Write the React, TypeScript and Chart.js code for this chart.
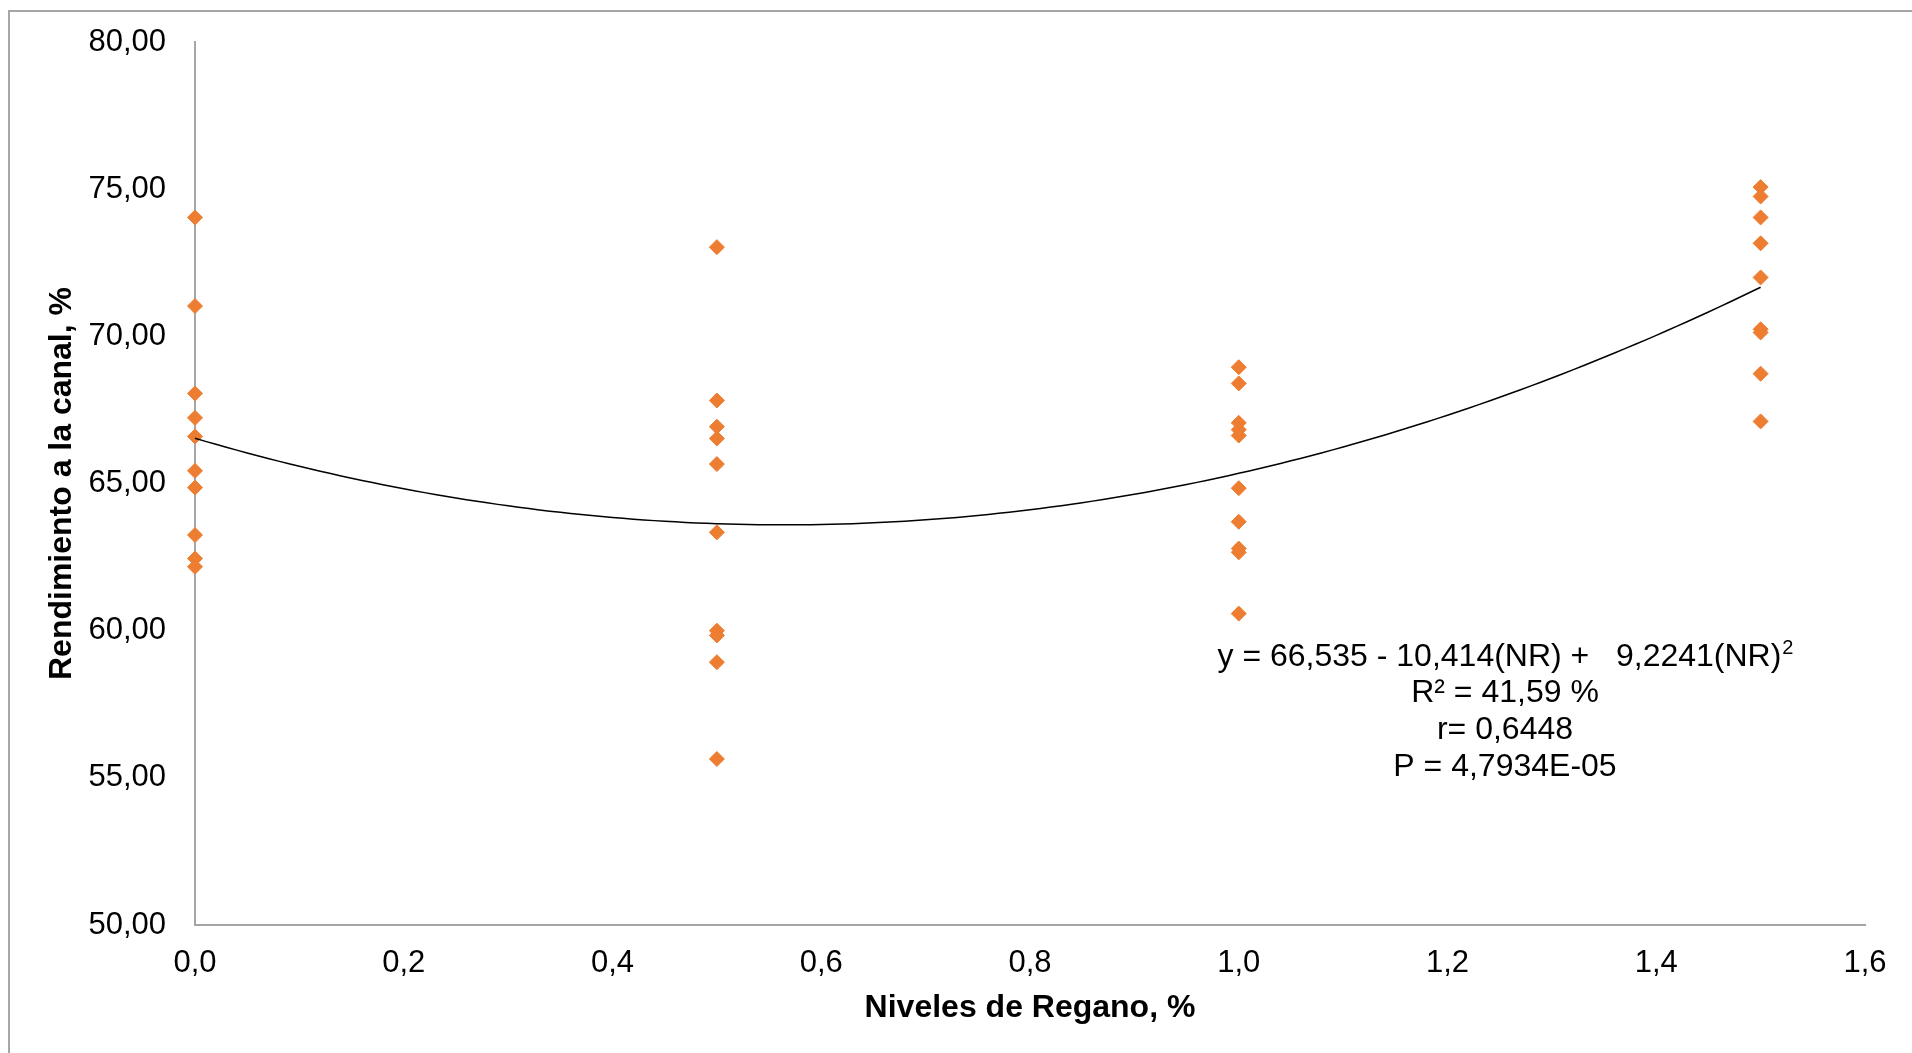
import React, { useEffect, useRef } from "react";
import { Chart, registerables } from "chart.js";

Chart.register(...registerables);

// Levels of oregano (x) and carcass yield observations per level (y)
const levels = [0, 0.5, 1.0, 1.5];
const yieldAt00 = [74.04, 71.03, 68.06, 67.23, 66.6, 65.43, 64.86, 63.25, 62.45, 62.17];
const yieldAt05 = [73.03, 67.82, 66.93, 66.53, 65.66, 63.34, 60.0, 59.84, 58.93, 55.64];
const yieldAt10 = [68.95, 68.4, 67.06, 66.83, 66.63, 64.84, 63.7, 62.79, 62.66, 60.58];
const yieldAt15 = [75.07, 74.75, 74.04, 73.16, 72.0, 70.24, 70.13, 68.73, 67.11];

// Polynomial trendline coefficients (c0 + c1*x + c2*x^2), as printed on the chart
const trendCoef = [66.535, -10.414, 9.2241];
const trendRange = [0, 1.5];

const equationMain = "y = 66,535 - 10,414(NR) +   9,2241(NR)";
const equationSup = "2";
const statLines = ["R² = 41,59 %", "r= 0,6448", "P = 4,7934E-05"];

const xTitle = "Niveles de Regano, %";
const yTitle = "Rendimiento a la canal, %";

const FONT = "'Liberation Sans', Arial, sans-serif";

export default function App() {
  const ref = useRef<HTMLCanvasElement | null>(null);

  useEffect(() => {
    if (!ref.current) return;
    const groups = [yieldAt00, yieldAt05, yieldAt10, yieldAt15];
    const points: { x: number; y: number }[] = [];
    groups.forEach((g, i) => g.forEach((v) => points.push({ x: levels[i], y: v })));

    const trend: { x: number; y: number }[] = [];
    for (let k = 0; k <= 150; k++) {
      const x = trendRange[0] + ((trendRange[1] - trendRange[0]) * k) / 150;
      trend.push({ x, y: trendCoef[0] + trendCoef[1] * x + trendCoef[2] * x * x });
    }

    const equationPlugin = {
      id: "equation",
      afterDraw(chart: any) {
        const ctx = chart.ctx;
        ctx.save();
        ctx.fillStyle = "#000";
        ctx.textBaseline = "middle";
        const cx = 1495;
        const y0 = 645;
        const step = 36.6;
        ctx.font = `32px ${FONT}`;
        const wMain = ctx.measureText(equationMain).width;
        ctx.font = `20px ${FONT}`;
        const wSup = ctx.measureText(equationSup).width;
        const start = cx - (wMain + wSup) / 2;
        ctx.font = `32px ${FONT}`;
        ctx.textAlign = "left";
        ctx.fillText(equationMain, start, y0);
        ctx.font = `20px ${FONT}`;
        ctx.fillText(equationSup, start + wMain + 1, y0 - 9);
        ctx.font = `32px ${FONT}`;
        ctx.textAlign = "center";
        statLines.forEach((t, i) => ctx.fillText(t, cx, y0 + step * (i + 1)));
        ctx.restore();
      },
    };

    const chart = new Chart(ref.current, {
      type: "scatter",
      data: {
        datasets: [
          {
            data: points,
            pointStyle: "rectRot",
            pointRadius: 7.5,
            pointBorderWidth: 1,
            backgroundColor: "#ED7D31",
            borderColor: "#ED7D31",
            clip: false,
            order: 2,
          },
          {
            data: trend,
            showLine: true,
            pointRadius: 0,
            borderColor: "#000",
            borderWidth: 1.5,
            fill: false,
            clip: false,
            order: 1,
          } as any,
        ],
      },
      options: {
        animation: false,
        responsive: false,
        devicePixelRatio: 1,
        layout: { padding: { left: 0, top: 30, right: 47, bottom: 0 } },
        plugins: { legend: { display: false }, tooltip: { enabled: false } },
        scales: {
          x: {
            type: "linear",
            min: 0,
            max: 1.6,
            grid: { display: false, drawTicks: false },
            border: { display: true, color: "#A6A6A6", width: 2 },
            ticks: {
              stepSize: 0.2,
              padding: 20,
              color: "#000",
              font: { family: FONT, size: 31 },
              callback: (v: any) => Number(v).toFixed(1).replace(".", ","),
            },
            title: {
              display: true,
              text: xTitle,
              color: "#000",
              font: { family: FONT, size: 32, weight: "bold" },
              padding: { top: 0, bottom: 26 },
            },
            afterFit: (s: any) => {
              s.height = 128;
              s.paddingLeft = 0;
              s.paddingRight = 0;
              s.paddingTop = 0;
              s.paddingBottom = 0;
            },
          },
          y: {
            type: "linear",
            min: 50,
            max: 80,
            grid: { display: false, drawTicks: false },
            border: { display: true, color: "#A6A6A6", width: 2 },
            ticks: {
              stepSize: 5,
              padding: 29,
              color: "#000",
              font: { family: FONT, size: 31 },
              callback: (v: any) => Number(v).toFixed(2).replace(".", ","),
            },
            title: {
              display: true,
              text: yTitle,
              color: "#000",
              font: { family: FONT, size: 32, weight: "bold" },
              padding: { top: 33, bottom: 0 },
            },
            afterFit: (s: any) => {
              s.width = 185;
              s.paddingLeft = 0;
              s.paddingRight = 0;
              s.paddingTop = 0;
              s.paddingBottom = 0;
            },
          },
        },
      } as any,
      plugins: [equationPlugin],
    });
    return () => chart.destroy();
  }, []);

  return (
    <div
      style={{
        position: "absolute",
        left: 8,
        top: 10,
        width: 1902,
        height: 1041,
        borderLeft: "2px solid #A6A6A6",
        borderTop: "2px solid #A6A6A6",
        background: "#fff",
        overflow: "hidden",
      }}
    >
      <canvas ref={ref} width={1902} height={1041} style={{ display: "block", width: 1902, height: 1041 }} />
    </div>
  );
}
